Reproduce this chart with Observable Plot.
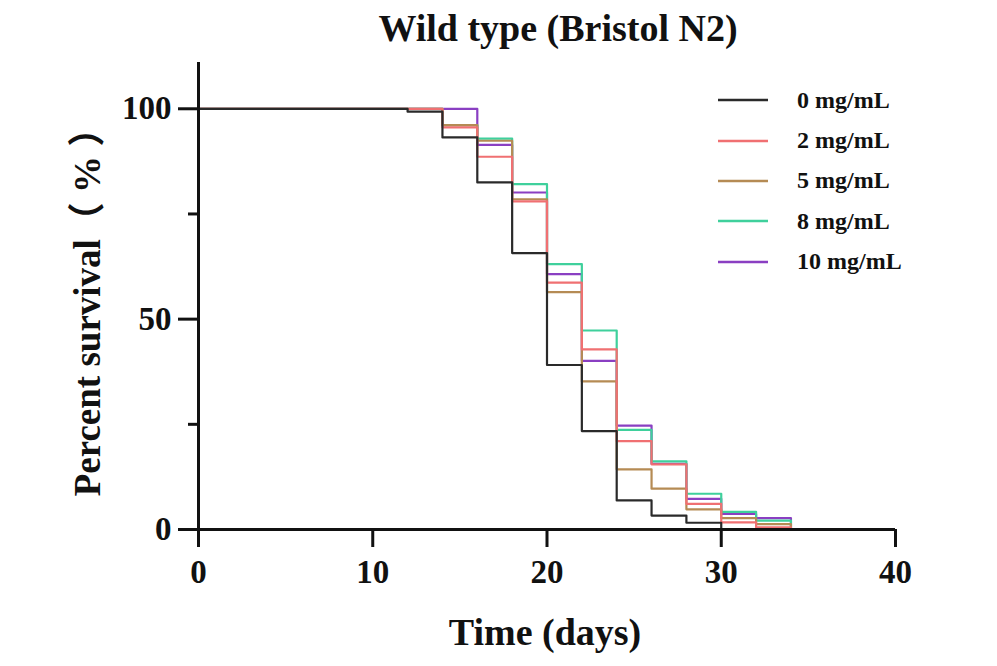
<!DOCTYPE html>
<html>
<head>
<meta charset="utf-8">
<script src="https://cdn.jsdelivr.net/npm/d3@7"></script>
<script src="https://cdn.jsdelivr.net/npm/@observablehq/plot@0.6"></script>
<style>
  html, body { margin: 0; padding: 0; background: #fff; }
  #wrap { position: relative; width: 997px; height: 666px; }
  #legend { position: absolute; left: 718px; top: 80px; font-family: "Liberation Serif", "Times New Roman", serif; font-weight: bold; font-size: 24px; color: #111; }
  #legend .row { display: flex; align-items: center; height: 40.4px; }
  #legend svg { margin-right: 29px; }
</style>
</head>
<body>
<div id="wrap"><div id="chart"></div><div id="legend"></div></div>
<script>
const days = [0, 12, 14, 16, 18, 20, 22, 24, 26, 28, 30, 32, 34];
const seriesNames = ["0 mg/mL", "2 mg/mL", "5 mg/mL", "8 mg/mL", "10 mg/mL"];
const seriesColors = ["#2a2a2a", "#f07072", "#b58b54", "#3fd09c", "#8a3fc2"];
const surv0  = [100, 99.3, 93.2, 82.5, 65.7, 39.1, 23.4, 6.9, 3.3, 1.6, 0];
const surv2  = [100, 100, 95.6, 88.6, 78.0, 58.7, 42.8, 21.0, 15.5, 6.1, 1.7, 0.5, 0];
const surv5  = [100, 100, 96.1, 92.4, 78.5, 56.4, 35.2, 14.3, 9.7, 4.8, 2.7, 1.3, 0];
const surv8  = [100, 100, 96.1, 92.9, 82.1, 63.1, 47.3, 23.7, 16.2, 8.5, 4.2, 2.1, 0];
const surv10 = [100, 100, 100, 91.4, 80.1, 60.7, 40.1, 24.7, 15.6, 7.3, 3.7, 2.7, 0];
const xTicks = [0, 10, 20, 30, 40];
const yMajor = [0, 50, 100];
const yMinor = [25, 75];
const titleText = "Wild type (Bristol N2)";
const xLabel = "Time (days)";
const yLabel = "Percent survival（ % ）";

const allSeries = [surv0, surv2, surv5, surv8, surv10];
const rows = [];
// draw in reverse legend order so the 0 mg/mL curve is on top
for (let s = allSeries.length - 1; s >= 0; s--) {
  allSeries[s].forEach((v, i) => rows.push({series: seriesNames[s], day: days[i], pct: v}));
}

const chart = Plot.plot({
  width: 997,
  height: 666,
  marginLeft: 198,
  marginRight: 102,
  marginTop: 62,
  marginBottom: 137,
  style: {fontFamily: "'Liberation Serif', 'Times New Roman', 'Noto Sans CJK SC', serif", fontWeight: "bold", color: "#111", background: "#fff"},
  x: {domain: [0, 40]},
  y: {domain: [0, 111]},
  color: {domain: seriesNames, range: seriesColors},
  marks: [
    Plot.line(rows, {x: "day", y: "pct", z: "series", stroke: "series", curve: "step-after", strokeWidth: 2.2}),
    Plot.ruleX([0], {strokeWidth: 3, stroke: "#111"}),
    Plot.ruleY([0], {strokeWidth: 3, stroke: "#111"}),
    Plot.axisX({ticks: xTicks, tickSize: 18, tickPadding: 12, strokeWidth: 3, fontSize: 33, label: null, stroke: "#111"}),
    Plot.axisY({ticks: yMajor, tickSize: 20, tickPadding: 7, strokeWidth: 3, fontSize: 33, label: null, stroke: "#111"}),
    Plot.axisY({ticks: yMinor, tickSize: 10, strokeWidth: 3, text: null, label: null, stroke: "#111"}),
    Plot.text([titleText], {frameAnchor: "top", lineAnchor: "middle", textAnchor: "middle", dx: 11, dy: -34, fontSize: 38, fontWeight: "bold"}),
    Plot.text([xLabel], {frameAnchor: "bottom", lineAnchor: "middle", textAnchor: "middle", dx: -2, dy: 103, fontSize: 38, fontWeight: "bold"}),
    Plot.text([yLabel], {frameAnchor: "left", lineAnchor: "middle", textAnchor: "middle", dx: -110, dy: 7, rotate: -90, fontSize: 37, fontWeight: "bold"})
  ]
});
document.getElementById("chart").appendChild(chart);

const legend = document.getElementById("legend");
seriesNames.forEach((name, i) => {
  const row = document.createElement("div");
  row.className = "row";
  row.innerHTML = `<svg width="50" height="6"><line x1="0" x2="50" y1="3" y2="3" stroke="${seriesColors[i]}" stroke-width="2.5"/></svg><span>${name}</span>`;
  legend.appendChild(row);
});
</script>
</body>
</html>
